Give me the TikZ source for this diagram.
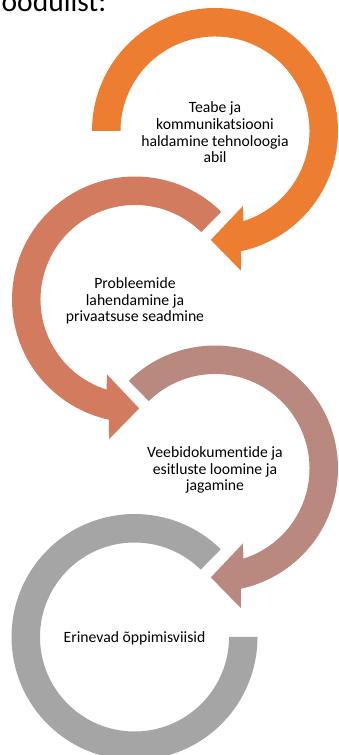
\documentclass[tikz,border=0pt]{standalone}
\usepackage{fontspec}
\setmainfont{Carlito}[Ligatures=NoCommon]
\usetikzlibrary{positioning}
\definecolor{oranz}{HTML}{ED7D31}
\definecolor{terrakota}{HTML}{D27B5F}
\definecolor{roosa}{HTML}{B9897F}
\definecolor{hall}{HTML}{A5A5A5}

\begin{document}
\begin{tikzpicture}[
    x=1pt, y=1pt,
    silt/.style={align=center, inner sep=0pt, font=\fontsize{15.7}{16.7}\selectfont},
    pealkiri/.style={anchor=base west, inner sep=0pt, font=\fontsize{29.5}{30}\selectfont}
]
    \useasboundingbox (0,0) rectangle (338,755);
    \clip (0,0) rectangle (338,755);

    % Ringide keskpunktid
    \coordinate (c1) at (215,624);
    \coordinate (c2) at (135,455.5);
    \coordinate (c3) at (215,286.5);
    \coordinate (c4) at (134.5,118);

    % Pealkirja ots (lehe servast lõigatud)
    \node (pealk) [pealkiri] at (1.5,743) {oodulist:};

    % Kaarnooled
    \foreach \c/\algus/\varv/\peegel in {c1/180/oranz/1, c2/134.5/terrakota/-1, c3/134.5/roosa/1} {
        \begin{scope}[shift={(\c)}, xscale=\peegel]
            \fill[\varv] (\algus:123) arc[start angle=\algus, end angle=-77.7, radius=123]
                -- (-79.5:142) -- (-92.2:109) -- (-69.5:80) -- (-72.5:94.5)
                arc[start angle=-72.5, end angle=\algus, radius=94.5] -- cycle;
        \end{scope}
    }

    % Viimane ring ilma noolteta
    \begin{scope}[shift={(c4)}]
        \fill[hall] (45.5:123) arc[start angle=45.5, end angle=360, radius=123]
            -- (0:94.5) arc[start angle=360, end angle=45.5, radius=94.5] -- cycle;
    \end{scope}

    % Tekstid
    \node (teave) [silt] at ([yshift=-1.5]c1) {Teabe ja\\ kommunikatsiooni\\ haldamine tehnoloogia\\ abil};
    \node (probleemid) [silt] at ([yshift=-1.5]c2) {Probleemide\\ lahendamine ja\\ privaatsuse seadmine};
    \node (veebidok) [silt] at ([yshift=-1.5]c3) {Veebidokumentide ja\\ esitluste loomine ja\\ jagamine};
    \node (oppimine) [silt] at ([yshift=-1.5]c4) {Erinevad õppimisviisid};

\end{tikzpicture}
\end{document}
